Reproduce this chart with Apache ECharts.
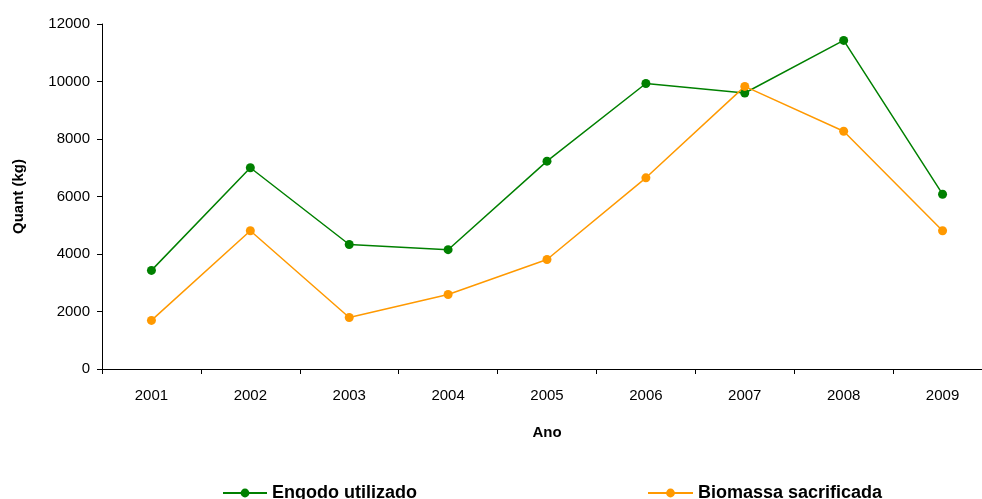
<!DOCTYPE html>
<html>
<head>
<meta charset="utf-8">
<script src="https://cdn.jsdelivr.net/npm/echarts@6/dist/echarts.min.js"></script>
<style>
  html, body { margin: 0; padding: 0; background: #fff; overflow: hidden; }
  /* the category axis runs a little past the right edge of the page */
  #chart { width: 992px; height: 499px; }
</style>
</head>
<body>
<div id="chart"></div>
<script>
const years = ['2001', '2002', '2003', '2004', '2005', '2006', '2007', '2008', '2009'];
const engodo = [3430, 7000, 4330, 4150, 7230, 9930, 9600, 11430, 6080];
const biomassa = [1690, 4810, 1790, 2590, 3810, 6650, 9830, 8270, 4810];

const font = 'Arial, "Liberation Sans", sans-serif';
const legendText = { fontFamily: font, fontSize: 18, fontWeight: 'bold', color: '#000' };
const chart = echarts.init(document.getElementById('chart'));
chart.setOption({
  animation: false,
  textStyle: { fontFamily: font },
  grid: { left: 102, right: 0, top: 24, bottom: 130 },
  legend: [
    {
      top: 484, left: 222, padding: 0,
      itemWidth: 44, itemHeight: 11,
      textStyle: legendText,
      data: ['Engodo utilizado']
    },
    {
      top: 484, left: 647, padding: 0,
      itemWidth: 45, itemHeight: 11,
      textStyle: legendText,
      data: ['Biomassa sacrificada']
    }
  ],
  xAxis: {
    type: 'category',
    data: years,
    boundaryGap: true,
    name: 'Ano',
    nameLocation: 'middle',
    nameGap: 56,
    nameTextStyle: { fontFamily: font, fontSize: 15, fontWeight: 'bold', color: '#000' },
    axisLine: { lineStyle: { color: '#000', width: 1 } },
    axisTick: { show: true, length: 5, lineStyle: { color: '#000' } },
    axisLabel: { fontFamily: font, fontSize: 15, color: '#000', margin: 19 }
  },
  yAxis: {
    type: 'value',
    min: 0,
    max: 12000,
    interval: 2000,
    name: 'Quant (kg)',
    nameLocation: 'middle',
    nameGap: 76,
    nameRotate: 90,
    nameTextStyle: { fontFamily: font, fontSize: 15, fontWeight: 'bold', color: '#000' },
    axisLine: { show: true, lineStyle: { color: '#000', width: 1 } },
    axisTick: { show: true, length: 5, lineStyle: { color: '#000' } },
    axisLabel: { fontFamily: font, fontSize: 15, color: '#000', margin: 12, formatter: v => String(v) },
    splitLine: { show: false }
  },
  series: [
    {
      name: 'Engodo utilizado',
      type: 'line',
      data: engodo,
      color: '#008000',
      symbol: 'circle',
      symbolSize: 9,
      lineStyle: { width: 1.5, color: '#008000' },
      itemStyle: { color: '#008000' }
    },
    {
      name: 'Biomassa sacrificada',
      type: 'line',
      data: biomassa,
      color: '#FF9900',
      symbol: 'circle',
      symbolSize: 9,
      lineStyle: { width: 1.5, color: '#FF9900' },
      itemStyle: { color: '#FF9900' }
    }
  ]
});
</script>
</body>
</html>
